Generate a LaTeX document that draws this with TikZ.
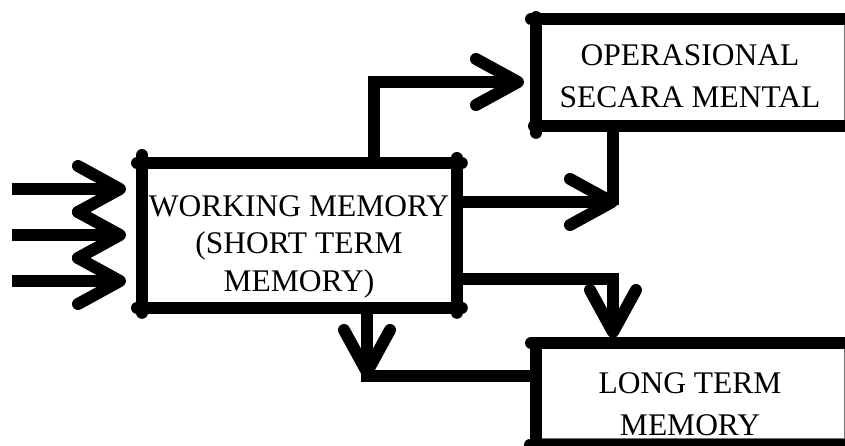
\documentclass[tikz,border=0pt]{standalone}
\usepackage{fontspec}
\setmainfont{Liberation Serif}
\usetikzlibrary{arrows.meta}
\begin{document}
\begin{tikzpicture}[x=1pt,y=-1pt,
  frame/.style={draw=black!55, line width=0.8pt, inner sep=0pt, anchor=north west},
  side/.style={line width=12pt, line cap=round},
  wire/.style={line width=12pt},
  head/.style={-{Straight Barb[length=42pt,width=46pt,round]}},
  lbl/.style={anchor=base, inner sep=0pt, font=\fontsize{31.5}{38}\selectfont}
]
\useasboundingbox (0,0) rectangle (845,445);

% ---- boxes ----
\node[frame, minimum width=314pt, minimum height=144pt] (wm)  at (142,163) {};
\node[frame, minimum width=308pt, minimum height=106pt] (op)  at (536,19)  {};
\node[frame, minimum width=308pt, minimum height=95pt]  (ltm) at (536,343) {};

% heavy borders with knobbed corners
\draw[side] ([xshift=-5pt]wm.north west) -- ([xshift=5pt]wm.north east);
\draw[side] ([xshift=-5pt]wm.south west) -- ([xshift=5pt]wm.south east);
\draw[side] ([yshift=8pt]wm.north west) -- ([yshift=-5pt]wm.south west);
\draw[side] ([yshift=5pt]wm.north east) -- ([yshift=-5pt]wm.south east);

\draw[side] ([xshift=-5pt]op.north west) -- ([xshift=6pt]op.north east);
\draw[side] ([xshift=-2pt]op.south west) -- ([xshift=6pt]op.south east);
\draw[side] ([yshift=2pt]op.north west) -- ([yshift=-7pt]op.south west);

\draw[side] ([xshift=-5pt]ltm.north west) -- ([xshift=6pt]ltm.north east);
\draw[side] ([yshift=-2pt]ltm.north west) -- ([yshift=-6pt]ltm.south west);
\draw[side] ([xshift=-6pt,yshift=-6pt]ltm.south west) -- ([xshift=6pt,yshift=-6pt]ltm.south east);

% ---- labels ----
\node[lbl] (wm1) at (299,216) {WORKING MEMORY};
\node[lbl] (wm2) at (299,253) {(SHORT TERM};
\node[lbl] (wm3) at (299,291) {MEMORY)};
\node[lbl] (op1) at (690,65)  {OPERASIONAL};
\node[lbl] (op2) at (690,107) {SECARA MENTAL};
\node[lbl] (lt1) at (690,393) {LONG TERM};
\node[lbl] (lt2) at (690,435) {MEMORY};

% ---- incoming arrows ----
\coordinate (in1) at (12,189);  \coordinate (e1) at (126,189);
\coordinate (in2) at (12,235);  \coordinate (e2) at (126,235);
\coordinate (in3) at (12,281);  \coordinate (e3) at (126,281);
\draw[wire,head] (in1) -- (e1);
\draw[wire,head] (in2) -- (e2);
\draw[wire,head] (in3) -- (e3);

% ---- working memory to mental operation ----
\coordinate (a1) at (374,82);
\coordinate (a1e) at (524,82);
\draw[wire,head] (wm.north -| a1) -- (a1) -- (a1e);

\coordinate (meet) at (618,202);
\coordinate (drop) at (613,205);
\draw[wire,head] (wm.east |- meet) -- (meet);
\draw[wire] (op.south -| drop) -- (drop);

% ---- working memory to long term memory ----
\coordinate (b3) at (613,279);
\coordinate (b3e) at (613,338);
\draw[wire,head] (wm.east |- b3) -- (b3) -- (b3e);

% ---- long term memory back to working memory ----
\coordinate (c4) at (367,376);
\coordinate (c4t) at (367,378);
\draw[wire,head] (wm.south -| c4) -- (c4t);
\draw[wire] (ltm.west |- c4) -- ([xshift=-6pt]c4);
\end{tikzpicture}
\end{document}
